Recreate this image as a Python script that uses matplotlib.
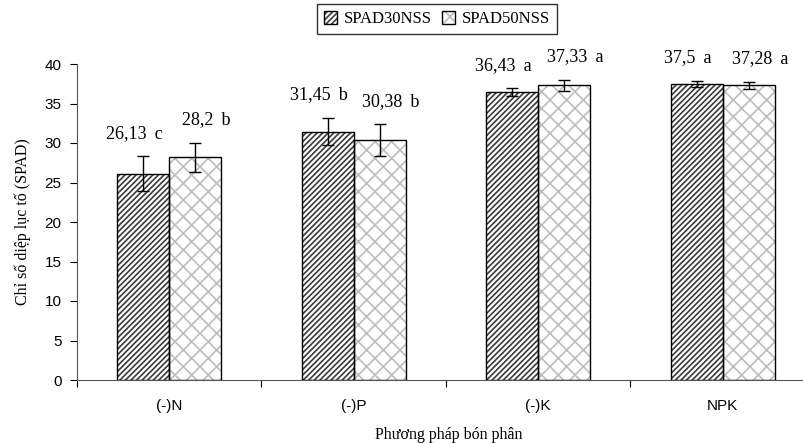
import matplotlib
matplotlib.use('Agg')
import matplotlib.pyplot as plt
import numpy as np
from matplotlib.patches import Patch

plt.rcParams['font.family'] = ['Liberation Serif', 'DejaVu Serif']
plt.rcParams['hatch.linewidth'] = 1.2

# du lieu
nghiem_thuc = ['(-)N', '(-)P', '(-)K', 'NPK']
spad30 = [26.13, 31.45, 36.43, 37.5]
spad50 = [28.2, 30.38, 37.33, 37.28]
err30 = [2.2, 1.75, 0.5, 0.35]
err50 = [1.85, 2.0, 0.7, 0.5]
chu30 = ['c', 'b', 'a', 'a']
chu50 = ['b', 'b', 'a', 'a']

fig = plt.figure(figsize=(8.04, 4.43), dpi=100)
ax = fig.add_axes([77 / 804, 63 / 443, 738 / 804, 316 / 443])

x = np.arange(len(nghiem_thuc))
w = 0.282

# hatch ve rieng, vien den ve lop tren
ax.bar(x - w / 2, spad30, w, color='white', edgecolor='#3a3a3a', hatch='//////', linewidth=0)
ax.bar(x + w / 2, spad50, w, color='white', edgecolor='#bdbdbd', hatch='xx', linewidth=0)
ax.bar(x - w / 2, spad30, w, fill=False, edgecolor='black', linewidth=1)
ax.bar(x + w / 2, spad50, w, fill=False, edgecolor='black', linewidth=1)

ax.errorbar(x - w / 2, spad30, yerr=err30, fmt='none', ecolor='black', elinewidth=1, capsize=4.5, capthick=1)
ax.errorbar(x + w / 2, spad50, yerr=err50, fmt='none', ecolor='black', elinewidth=1, capsize=4.5, capthick=1)

def nhan(v, c):
    s = ('%.2f' % v).rstrip('0').rstrip('.')
    return s.replace('.', ',') + ' \u2009' + c

for i in range(len(x)):
    ax.text(x[i] - w / 2 - 0.05, spad30[i] + err30[i] + 2.9, nhan(spad30[i], chu30[i]),
            ha='center', va='center', fontsize=13, clip_on=False)
    ax.text(x[i] + w / 2 + 0.06, spad50[i] + err50[i] + 2.9, nhan(spad50[i], chu50[i]),
            ha='center', va='center', fontsize=13, clip_on=False)

ax.set_xlim(-0.5, 3.5)
ax.set_ylim(0, 40)
ax.set_yticks(np.arange(0, 41, 5))
ax.set_xticks(np.arange(-0.5, 3.6, 1))
ax.set_xticklabels([])
ax.set_xticks(x, minor=True)
ax.set_xticklabels(nghiem_thuc, minor=True, family='Liberation Sans', fontsize=11)
ax.tick_params(axis='x', which='minor', length=0, pad=14)
ax.tick_params(axis='x', which='major', length=5, direction='out')
ax.tick_params(axis='y', length=5, direction='out', pad=6)
for lb in ax.get_yticklabels():
    lb.set_family('Liberation Sans')
    lb.set_fontsize(11)

ax.spines['top'].set_visible(False)
ax.spines['right'].set_visible(False)
ax.spines['left'].set_color('#555555')
ax.spines['bottom'].set_color('#555555')

ax.set_xlabel('Phương pháp bón phân', fontsize=11.5)
ax.xaxis.set_label_coords(449 / 804, 1 - 435 / 443, transform=fig.transFigure)
ax.xaxis.label.set_va('center')
ax.set_ylabel('Chỉ số diệp lục tố (SPAD)', fontsize=11.5, labelpad=10)

h30 = (Patch(facecolor='white', edgecolor='#3a3a3a', hatch='//////', linewidth=0),
       Patch(fill=False, edgecolor='black', linewidth=1))
h50 = (Patch(facecolor='white', edgecolor='#bdbdbd', hatch='xx', linewidth=0),
       Patch(fill=False, edgecolor='black', linewidth=1))
leg = fig.legend([h30, h50], ['SPAD30NSS', 'SPAD50NSS'], loc='center', bbox_to_anchor=(437 / 804, 1 - 19 / 443),
                 ncol=2, fontsize=12, frameon=True, fancybox=False, edgecolor='black',
                 handlelength=0.8, handleheight=0.8, handletextpad=0.4, columnspacing=0.6,
                 borderpad=0.4)
leg.get_frame().set_linewidth(1)

plt.savefig('out.png', dpi=100)
